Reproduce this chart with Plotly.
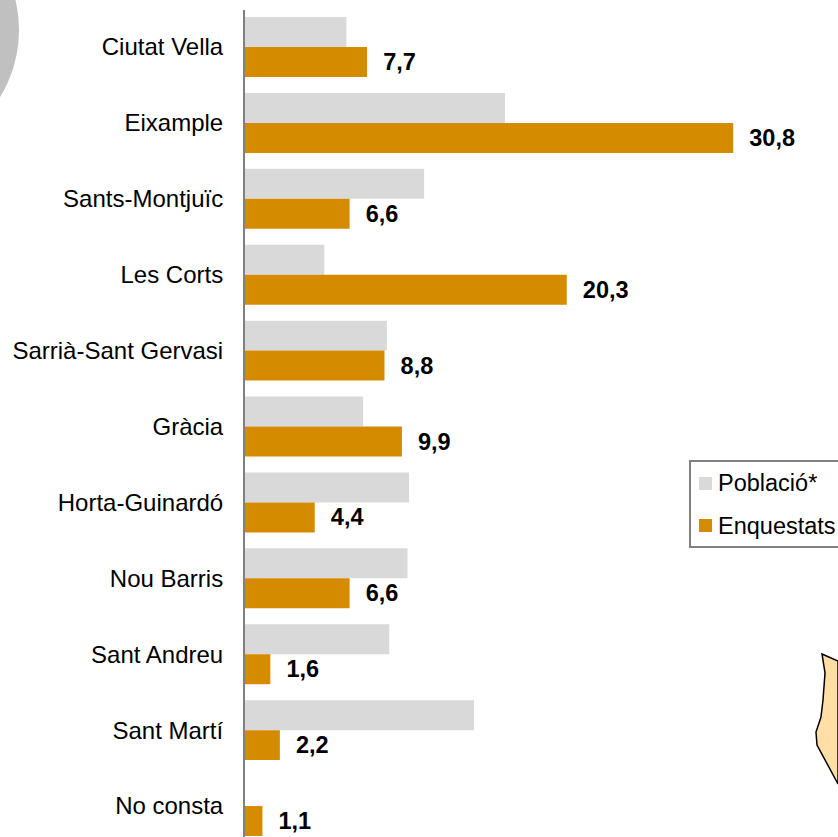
import plotly.graph_objects as go

categories = ["Ciutat Vella", "Eixample", "Sants-Montjuïc", "Les Corts", "Sarrià-Sant Gervasi", "Gràcia",
              "Horta-Guinardó", "Nou Barris", "Sant Andreu", "Sant Martí", "No consta"]
poblacio = [6.4, 16.4, 11.3, 5.0, 8.95, 7.45, 10.35, 10.25, 9.1, 14.45, 0]
enquestats = [7.7, 30.8, 6.6, 20.3, 8.8, 9.9, 4.4, 6.6, 1.6, 2.2, 1.1]
series_names = ["Població*", "Enquestats"]

GRAY = "#D9D9D9"
ORANGE = "#D58B00"
W, H = 838, 837
L, T = 245, 10


def px(x):
    return (x - L) / (W - L)


def py(y):
    return 1 - (y - T) / (H - T)


def path(points):
    return "M" + " L".join(f"{px(x):.4f},{py(y):.4f}" for x, y in points) + " Z"


fig = go.Figure()
fig.add_bar(name=series_names[0], y=categories, x=poblacio, orientation="h", marker=dict(color=GRAY, line_width=0))
fig.add_bar(name=series_names[1], y=categories, x=enquestats, orientation="h", marker=dict(color=ORANGE, line_width=0),
            texttemplate="\u00a0\u00a0%{x:.1f}", textposition="outside", cliponaxis=False, constraintext="none",
            textfont=dict(family="Liberation Sans", size=23.5, color="black", weight=700))

# decorative circle top-left
shapes = [dict(type="circle", xref="paper", yref="paper", x0=px(-236), x1=px(19), y0=py(158), y1=py(-98),
               fillcolor="#C0C0C0", line_width=0, layer="below")]
# map fragment bottom-right
map_pts = [(822, 654), (838, 661), (838, 784), (817, 745), (816, 732), (821, 717), (823, 700), (825, 673)]
shapes.append(dict(type="path", xref="paper", yref="paper", path=path(map_pts), fillcolor="#FFDFA5",
                   line=dict(color="black", width=1.5), layer="below"))
# legend box and swatches
shapes.append(dict(type="rect", xref="paper", yref="paper", x0=px(690), x1=px(850), y0=py(547), y1=py(461),
                   fillcolor="white", line=dict(color="#808080", width=2)))
shapes.append(dict(type="rect", xref="paper", yref="paper", x0=px(699), x1=px(712), y0=py(490), y1=py(477),
                   fillcolor=GRAY, line_width=0))
shapes.append(dict(type="rect", xref="paper", yref="paper", x0=px(699), x1=px(712), y0=py(532), y1=py(519),
                   fillcolor=ORANGE, line_width=0))

annotations = [dict(xref="paper", yref="paper", x=px(717), y=py(yc), text=name, showarrow=False, xanchor="left",
                    yanchor="middle", xshift=-1, font=dict(family="Liberation Sans", size=23.5, color="black"))
               for name, yc in zip(series_names, [483, 526])]

fig.update_layout(
    width=W, height=H, margin=dict(l=L, r=0, t=T, b=0, autoexpand=False),
    paper_bgcolor="white", plot_bgcolor="white", showlegend=False, barmode="group", bargap=0.21, bargroupgap=0,
    separators=",.", shapes=shapes, annotations=annotations,
    font=dict(family="Liberation Sans", size=24, color="black"),
    xaxis=dict(range=[0, 37.41], visible=False, fixedrange=True),
    yaxis=dict(type="category", range=[10.408, -0.4875], showgrid=False, zeroline=False, showline=True,
               linecolor="#808080", linewidth=2, ticks="", ticklabelstandoff=15, automargin=False,
               tickfont=dict(family="Liberation Sans", size=24, color="black"), fixedrange=True),
)
fig.write_html("out.html", post_script="document.body.style.margin='0';", config={"displayModeBar": False})
